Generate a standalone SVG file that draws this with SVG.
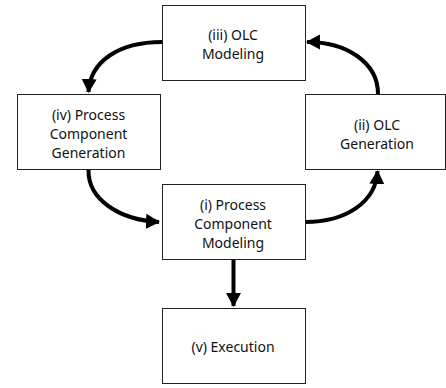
<svg xmlns="http://www.w3.org/2000/svg" width="446" height="388" viewBox="0 0 446 388">
<style>
.box{fill:#fff;stroke:#222;stroke-width:1}
.t{font-family:"Noto Sans","DejaVu Sans",sans-serif;font-size:14px;fill:#111;text-anchor:middle}
.c{fill:none;stroke:#000;stroke-width:4}
</style>
<defs>
<marker id="ah" markerUnits="userSpaceOnUse" markerWidth="16" markerHeight="16" refX="13" refY="8" orient="auto">
<polygon points="0,0.5 14,8 0,15.5" fill="#000"/>
</marker>
</defs>
<rect width="446" height="388" fill="#fff"/>
<g id="connectors">
<path class="c" d="M162,42 C118,42 90,62 88.5,92" marker-end="url(#ah)"/>
<path class="c" d="M378,94 C378,62 346,42 307,42" marker-end="url(#ah)"/>
<path class="c" d="M88.5,170 C88,200 120,220 159,222" marker-end="url(#ah)"/>
<path class="c" d="M305,222 C346,222 376,202 377.5,171" marker-end="url(#ah)"/>
<path class="c" d="M233.5,260 L233.5,306" marker-end="url(#ah)"/>
</g>
<g id="n3">
<rect class="box" x="162.5" y="5.5" width="143" height="75"/>
<text class="t" x="233" y="40">(iii) OLC</text>
<text class="t" x="233" y="59">Modeling</text>
</g>
<g id="n4">
<rect class="box" x="17.5" y="94.5" width="143" height="75"/>
<text class="t" x="88.5" y="120">(iv) Process</text>
<text class="t" x="88.5" y="139">Component</text>
<text class="t" x="88.5" y="158">Generation</text>
</g>
<g id="n2">
<rect class="box" x="305.5" y="94.5" width="140" height="75"/>
<text class="t" x="377" y="130">(ii) OLC</text>
<text class="t" x="377" y="149">Generation</text>
</g>
<g id="n1">
<rect class="box" x="162.5" y="184.5" width="143" height="75"/>
<text class="t" x="233" y="210">(i) Process</text>
<text class="t" x="233" y="229">Component</text>
<text class="t" x="233" y="248">Modeling</text>
</g>
<g id="n5">
<rect class="box" x="162.5" y="308.5" width="143" height="75"/>
<text class="t" x="233" y="352">(v) Execution</text>
</g>
</svg>
